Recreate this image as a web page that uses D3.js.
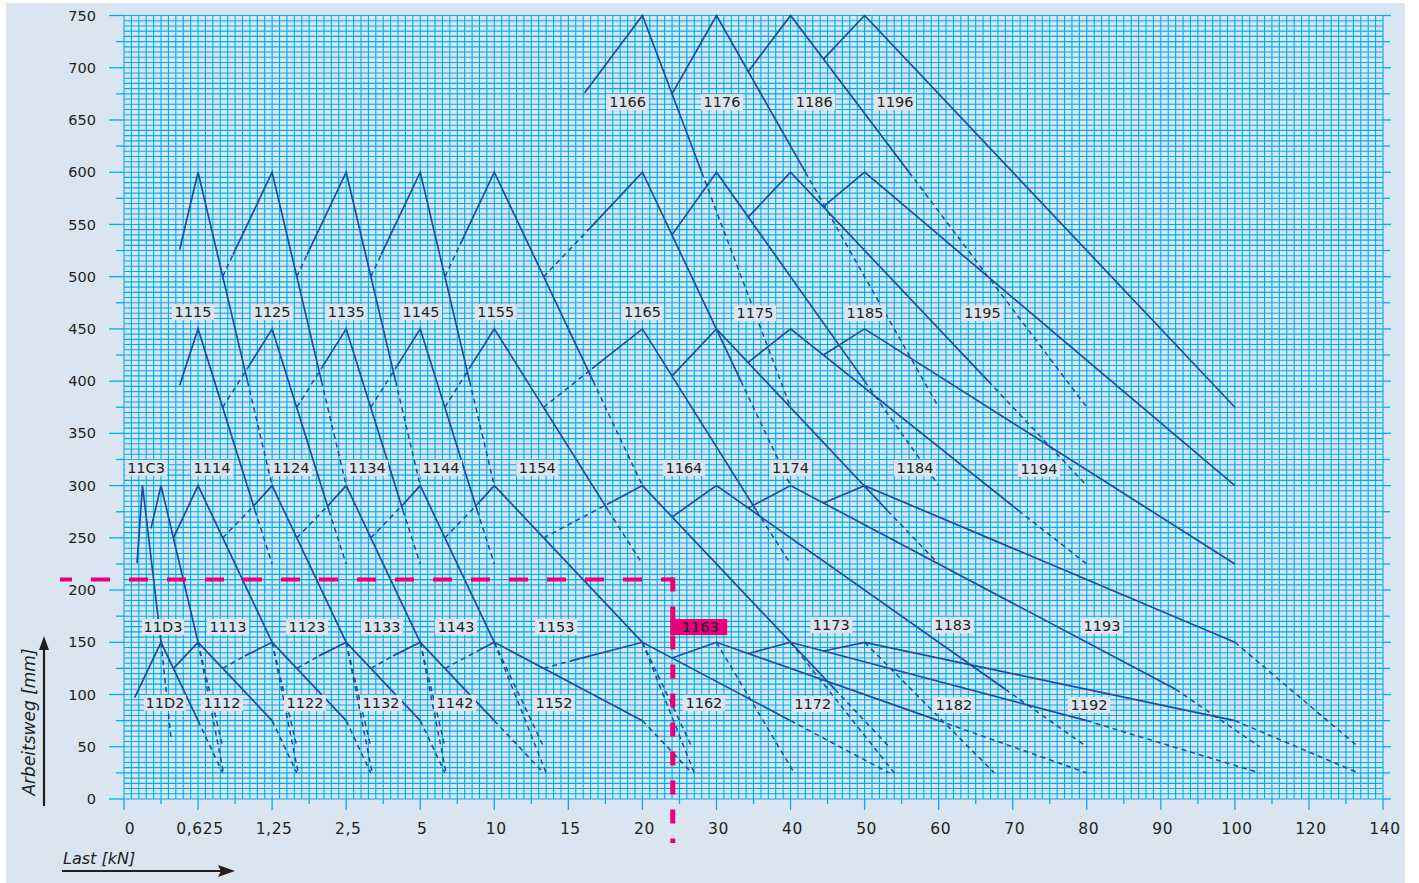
<!DOCTYPE html>
<html>
<head>
<meta charset="utf-8">
<title>Arbeitsweg / Last</title>
<script src="https://cdn.jsdelivr.net/npm/d3@7"></script>
<style>
  body { margin: 0; background: #fff; }
  svg text { font-family: "DejaVu Sans", sans-serif; fill: #231f20; }
</style>
</head>
<body>
<svg id="chart" width="1419" height="883"></svg>
<script>
// x axis: load categories, equally spaced
var loadTicks  = [0, 0.625, 1.25, 2.5, 5, 10, 15, 20, 30, 40, 50, 60, 70, 80, 90, 100, 120, 140];
var loadLabels = ["0", "0,625", "1,25", "2,5", "5", "10", "15", "20", "30", "40", "50", "60", "70", "80", "90", "100", "120", "140"];
var strokeTicks = [0, 50, 100, 150, 200, 250, 300, 350, 400, 450, 500, 550, 600, 650, 700, 750];

// curves, [load kN, stroke mm]
var solid150 = [
  [[0.09, 97], [0.3125, 150], [0.625, 75]],
  [[0.417, 125], [0.625, 150], [1.25, 75]],
  [[1.02, 137], [1.25, 150], [2.5, 75]],
  [[2.04, 137], [2.5, 150], [5, 75]],
  [[4.08, 137], [5, 150], [10, 75]],
  [[9.05, 143], [10, 150], [20, 75]],
  [[15.1, 132], [20, 150], [40, 75]],
  [[24, 135], [30, 150], [60, 75]],
  [[34.29, 139.3], [40, 150], [80, 75]],
  [[44.44, 141.7], [50, 150], [100, 75]]
];
var dashed150 = [
  [[0.3125, 150], [0.40, 55]],
  [[0.625, 150], [0.84, 25]],
  [[1.25, 150], [1.69, 25]],
  [[2.5, 150], [3.38, 25]],
  [[5, 150], [6.75, 25]],
  [[10, 150], [13.5, 25]],
  [[20, 150], [27, 25]],
  [[30, 150], [40.5, 25]],
  [[40, 150], [54, 25]],
  [[50, 150], [67.5, 25]],
  [[0.625, 75], [0.833, 25]],
  [[1.25, 75], [1.667, 25]],
  [[2.5, 75], [3.33, 25]],
  [[5, 75], [6.67, 25]],
  [[10, 75], [13.33, 25]],
  [[20, 75], [26.67, 25]],
  [[40, 75], [53.3, 25]],
  [[60, 75], [80, 25]],
  [[80, 75], [106.7, 25]],
  [[100, 75], [133.3, 25]],
  [[0.833, 125], [1.02, 137]],
  [[1.667, 125], [2.04, 137]],
  [[3.333, 125], [4.08, 137]],
  [[6.667, 125], [9.05, 143]],
  [[13.33, 125], [15.1, 132]]
];
var solid300 = [
  [[0.11, 226], [0.156, 300], [0.3125, 150]],
  [[0.228, 259], [0.3125, 300], [0.625, 150]],
  [[0.417, 250], [0.625, 300], [1.25, 150]],
  [[1.09, 280], [1.25, 300], [2.5, 150]],
  [[2.18, 280], [2.5, 300], [5, 150]],
  [[4.36, 280], [5, 300], [10, 150]],
  [[8.85, 282], [10, 300], [20, 150]],
  [[17.6, 282], [20, 300], [46, 105]],
  [[24, 270], [30, 300], [69, 105]],
  [[34.29, 278.6], [40, 300], [92, 105]],
  [[44.44, 283.3], [50, 300], [100, 150]]
];
var dashed300 = [
  [[0.833, 250], [1.09, 280]],
  [[1.667, 250], [2.18, 280]],
  [[3.333, 250], [4.36, 280]],
  [[6.667, 250], [8.85, 282]],
  [[13.33, 250], [17.6, 282]],
  [[0.625, 150], [0.833, 50]],
  [[1.25, 150], [1.667, 50]],
  [[2.5, 150], [3.33, 50]],
  [[5, 150], [6.67, 50]],
  [[10, 150], [13.33, 50]],
  [[20, 150], [26.67, 50]],
  [[46, 105], [53.3, 50]],
  [[69, 105], [80, 50]],
  [[92, 105], [106.7, 50]],
  [[100, 150], [133.3, 50]]
];
var solid450 = [
  [[0.47, 396], [0.625, 450], [1.106, 276]],
  [[1.04, 412], [1.25, 450], [2.21, 276]],
  [[2.08, 412], [2.5, 450], [4.42, 276]],
  [[4.16, 412], [5, 450], [8.85, 276]],
  [[8.3, 412], [10, 450], [17.7, 276]],
  [[16.6, 412], [20, 450], [35.4, 276]],
  [[24, 405], [30, 450], [53.1, 276]],
  [[34.29, 417.9], [40, 450], [70.8, 276]],
  [[44.44, 425], [50, 450], [100, 225]]
];
var dashed450 = [
  [[0.833, 375], [1.04, 412]],
  [[1.667, 375], [2.08, 412]],
  [[3.333, 375], [4.16, 412]],
  [[6.667, 375], [8.3, 412]],
  [[13.33, 375], [16.6, 412]],
  [[1.106, 276], [1.25, 225]],
  [[2.21, 276], [2.5, 225]],
  [[4.42, 276], [5, 225]],
  [[8.85, 276], [10, 225]],
  [[17.7, 276], [20, 225]],
  [[35.4, 276], [40, 225]],
  [[53.1, 276], [60, 225]],
  [[70.8, 276], [80, 225]]
];
var solid600 = [
  [[0.47, 526], [0.625, 600], [1.042, 400]],
  [[0.92, 521], [1.25, 600], [2.083, 400]],
  [[1.84, 521], [2.5, 600], [4.167, 400]],
  [[3.68, 521], [5, 600], [8.33, 400]],
  [[7.7, 531], [10, 600], [16.67, 400]],
  [[16.5, 547], [20, 600], [33.3, 400]],
  [[24, 540], [30, 600], [50, 400]],
  [[34.29, 557], [40, 600], [66.7, 400]],
  [[44.44, 567], [50, 600], [100, 300]]
];
var dashed600 = [
  [[0.833, 500], [0.92, 521]],
  [[1.667, 500], [1.84, 521]],
  [[3.333, 500], [3.68, 521]],
  [[6.667, 500], [7.7, 531]],
  [[13.33, 500], [16.5, 547]],
  [[1.042, 400], [1.25, 300]],
  [[2.083, 400], [2.5, 300]],
  [[4.167, 400], [5, 300]],
  [[8.33, 400], [10, 300]],
  [[16.67, 400], [20, 300]],
  [[33.3, 400], [40, 300]],
  [[50, 400], [60, 300]],
  [[66.7, 400], [80, 300]]
];
var solid750 = [
  [[16.1, 676], [20, 750], [28, 600]],
  [[24, 675], [30, 750], [42, 600]],
  [[34.29, 696.4], [40, 750], [56, 600]],
  [[44.44, 708.3], [50, 750], [100, 375]]
];
var dashed750 = [
  [[28, 600], [40, 375]],
  [[42, 600], [60, 375]],
  [[56, 600], [80, 375]]
];

// type labels: [text, load kN, stroke mm]
var typeLabels = [
  ["1166", 19, 667], ["1176", 30.75, 667], ["1186", 43.2, 667], ["1196", 54.1, 667],
  ["1115", 0.582, 466], ["1125", 1.25, 466], ["1135", 2.5, 466], ["1145", 5.05, 466], ["1155", 10.1, 466],
  ["1165", 20, 466], ["1175", 35.2, 465], ["1185", 50.05, 465], ["1195", 65.9, 465],
  ["11C3", 0.186, 317], ["1114", 0.743, 317], ["1124", 1.57, 317], ["1134", 3.21, 317], ["1144", 6.4, 317],
  ["1154", 12.9, 317], ["1164", 25.6, 317], ["1174", 40, 317], ["1184", 56.8, 317], ["1194", 73.55, 316],
  ["11D3", 0.329, 164.6], ["1113", 0.878, 164.6], ["1123", 1.84, 164.6], ["1133", 3.71, 164.6], ["1143", 7.42, 164.6],
  ["1153", 14.17, 164.6], ["1163", 27.8, 164.6], ["1173", 45.5, 166.6], ["1183", 61.9, 166.6], ["1193", 82.05, 166],
  ["11D2", 0.346, 92], ["1112", 0.827, 92], ["1122", 1.805, 92], ["1132", 3.675, 92], ["1142", 7.35, 92],
  ["1152", 14.03, 92], ["1162", 28.3, 92], ["1172", 43.0, 91], ["1182", 62.05, 90], ["1192", 80.3, 90]
];
var selectedType = "1163";
var selectedLoad = 24.1, selectedStroke = 210;

var colorBg = '#dae5f2', colorGrid = '#00aeef', colorCurve = '#1b4f9c', colorPink = '#e6007e';

var svg = d3.select('#chart');
svg.append('rect').attr('x', 6).attr('y', 3).attr('width', 1399).attr('height', 880).attr('fill', colorBg);

var x0 = 124, step = 74.06;
var x = d3.scaleLinear().domain(loadTicks).range(loadTicks.map(function(d, i) { return x0 + i * step; }));
var y = d3.scaleLinear().domain([0, 750]).range([799, 15.5]);

// grid
var grid = svg.append('g').attr('stroke', colorGrid).attr('stroke-width', 1.1);
var vx = [];
for (var i = 0; i < loadTicks.length - 1; i++) {
  for (var k = 0; k < 10; k++) vx.push(x(loadTicks[i]) + k * (x(loadTicks[i + 1]) - x(loadTicks[i])) / 10);
}
vx.push(x(140));
grid.selectAll('line.v').data(vx).enter().append('line')
  .attr('x1', function(d) { return d; }).attr('x2', function(d) { return d; })
  .attr('y1', y(750)).attr('y2', y(0));
grid.selectAll('line.h').data(d3.range(0, 751, 5)).enter().append('line')
  .attr('x1', x(0)).attr('x2', x(140))
  .attr('y1', function(d) { return y(d); }).attr('y2', function(d) { return y(d); });

// ticks
var ticks = svg.append('g').attr('stroke', colorGrid).attr('stroke-width', 1.3);
strokeTicks.forEach(function(v) {
  ticks.append('line').attr('x1', x(0) - 15).attr('x2', x(0)).attr('y1', y(v)).attr('y2', y(v));
  if (v < 750) ticks.append('line').attr('x1', x(0) - 8).attr('x2', x(0)).attr('y1', y(v + 25)).attr('y2', y(v + 25));
  ticks.append('line').attr('x1', x(140)).attr('x2', x(140) + 8).attr('y1', y(v)).attr('y2', y(v));
  if (v < 750) ticks.append('line').attr('x1', x(140)).attr('x2', x(140) + 7).attr('y1', y(v + 25)).attr('y2', y(v + 25));
});
loadTicks.forEach(function(v, i) {
  ticks.append('line').attr('x1', x(v)).attr('x2', x(v)).attr('y1', y(0)).attr('y2', y(0) + 11);
  if (i < loadTicks.length - 1) {
    var m = (x(v) + x(loadTicks[i + 1])) / 2;
    ticks.append('line').attr('x1', m).attr('x2', m).attr('y1', y(0)).attr('y2', y(0) + 5);
  }
});

svg.append('g').selectAll('text').data(strokeTicks).enter().append('text')
  .attr('x', 96).attr('y', function(d) { return y(d); }).attr('dy', '0.35em')
  .attr('text-anchor', 'end').style('font-size', '14.5px')
  .text(function(d) { return d; });
svg.append('g').selectAll('text').data(loadTicks).enter().append('text')
  .attr('x', function(d, i) { return x(d) + (i === 0 ? 6 : 2); }).attr('y', 834)
  .attr('text-anchor', 'middle').style('font-size', '15.5px').style('letter-spacing', '0.6px')
  .text(function(d, i) { return loadLabels[i]; });

// curves
var line = d3.line().x(function(d) { return x(d[0]); }).y(function(d) { return y(d[1]); });
var curves = svg.append('g').attr('fill', 'none').attr('stroke', colorCurve).attr('stroke-width', 1.7);
[solid150, solid300, solid450, solid600, solid750].forEach(function(set) {
  curves.selectAll(null).data(set).enter().append('path').attr('d', line);
});
[dashed150, dashed300, dashed450, dashed600, dashed750].forEach(function(set) {
  curves.selectAll(null).data(set).enter().append('path').attr('d', line)
    .attr('stroke-dasharray', '5,4').attr('stroke-width', 1.5);
});

// pink selection lines
svg.append('line').attr('x1', 60).attr('x2', x(selectedLoad)).attr('y1', y(selectedStroke)).attr('y2', y(selectedStroke))
  .attr('stroke', colorPink).attr('stroke-width', 4).attr('stroke-dasharray', '19,19').attr('stroke-dashoffset', 7);
svg.append('line').attr('x1', x(selectedLoad)).attr('x2', x(selectedLoad)).attr('y1', y(selectedStroke) - 2).attr('y2', 843)
  .attr('stroke', colorPink).attr('stroke-width', 5).attr('stroke-dasharray', '14,15');

// labels
var lab = svg.append('g').selectAll('g').data(typeLabels).enter().append('g')
  .attr('transform', function(d) { return 'translate(' + x(d[1]) + ',' + y(d[2]) + ')'; });
lab.append('rect')
  .attr('x', function(d) { return d[0] === selectedType ? -30 : -21; })
  .attr('y', -8).attr('width', function(d) { return d[0] === selectedType ? 57 : 42; }).attr('height', 16)
  .attr('fill', function(d) { return d[0] === selectedType ? colorPink : colorBg; });
lab.append('text').attr('text-anchor', 'middle').attr('dy', '0.36em').style('font-size', '14.5px')
  .text(function(d) { return d[0]; });

// axis titles with arrows
var ax = svg.append('g');
ax.append('line').attr('x1', 44).attr('x2', 44).attr('y1', 806).attr('y2', 648).attr('stroke', '#231f20').attr('stroke-width', 2.2);
ax.append('path').attr('d', 'M44,636 L39,650 L49,650 Z').attr('fill', '#231f20');
ax.append('text').attr('transform', 'translate(35,722) rotate(-90)').attr('text-anchor', 'middle')
  .style('font-size', '17px').style('font-style', 'italic').text('Arbeitsweg [mm]');
ax.append('line').attr('x1', 62).attr('x2', 222).attr('y1', 871).attr('y2', 871).attr('stroke', '#231f20').attr('stroke-width', 2.2);
ax.append('path').attr('d', 'M235,871 L218,865 L221,871 L218,877 Z').attr('fill', '#231f20');
ax.append('text').attr('x', 63).attr('y', 864).style('font-size', '16px').style('font-style', 'italic').text('Last [kN]');
</script>
</body>
</html>
